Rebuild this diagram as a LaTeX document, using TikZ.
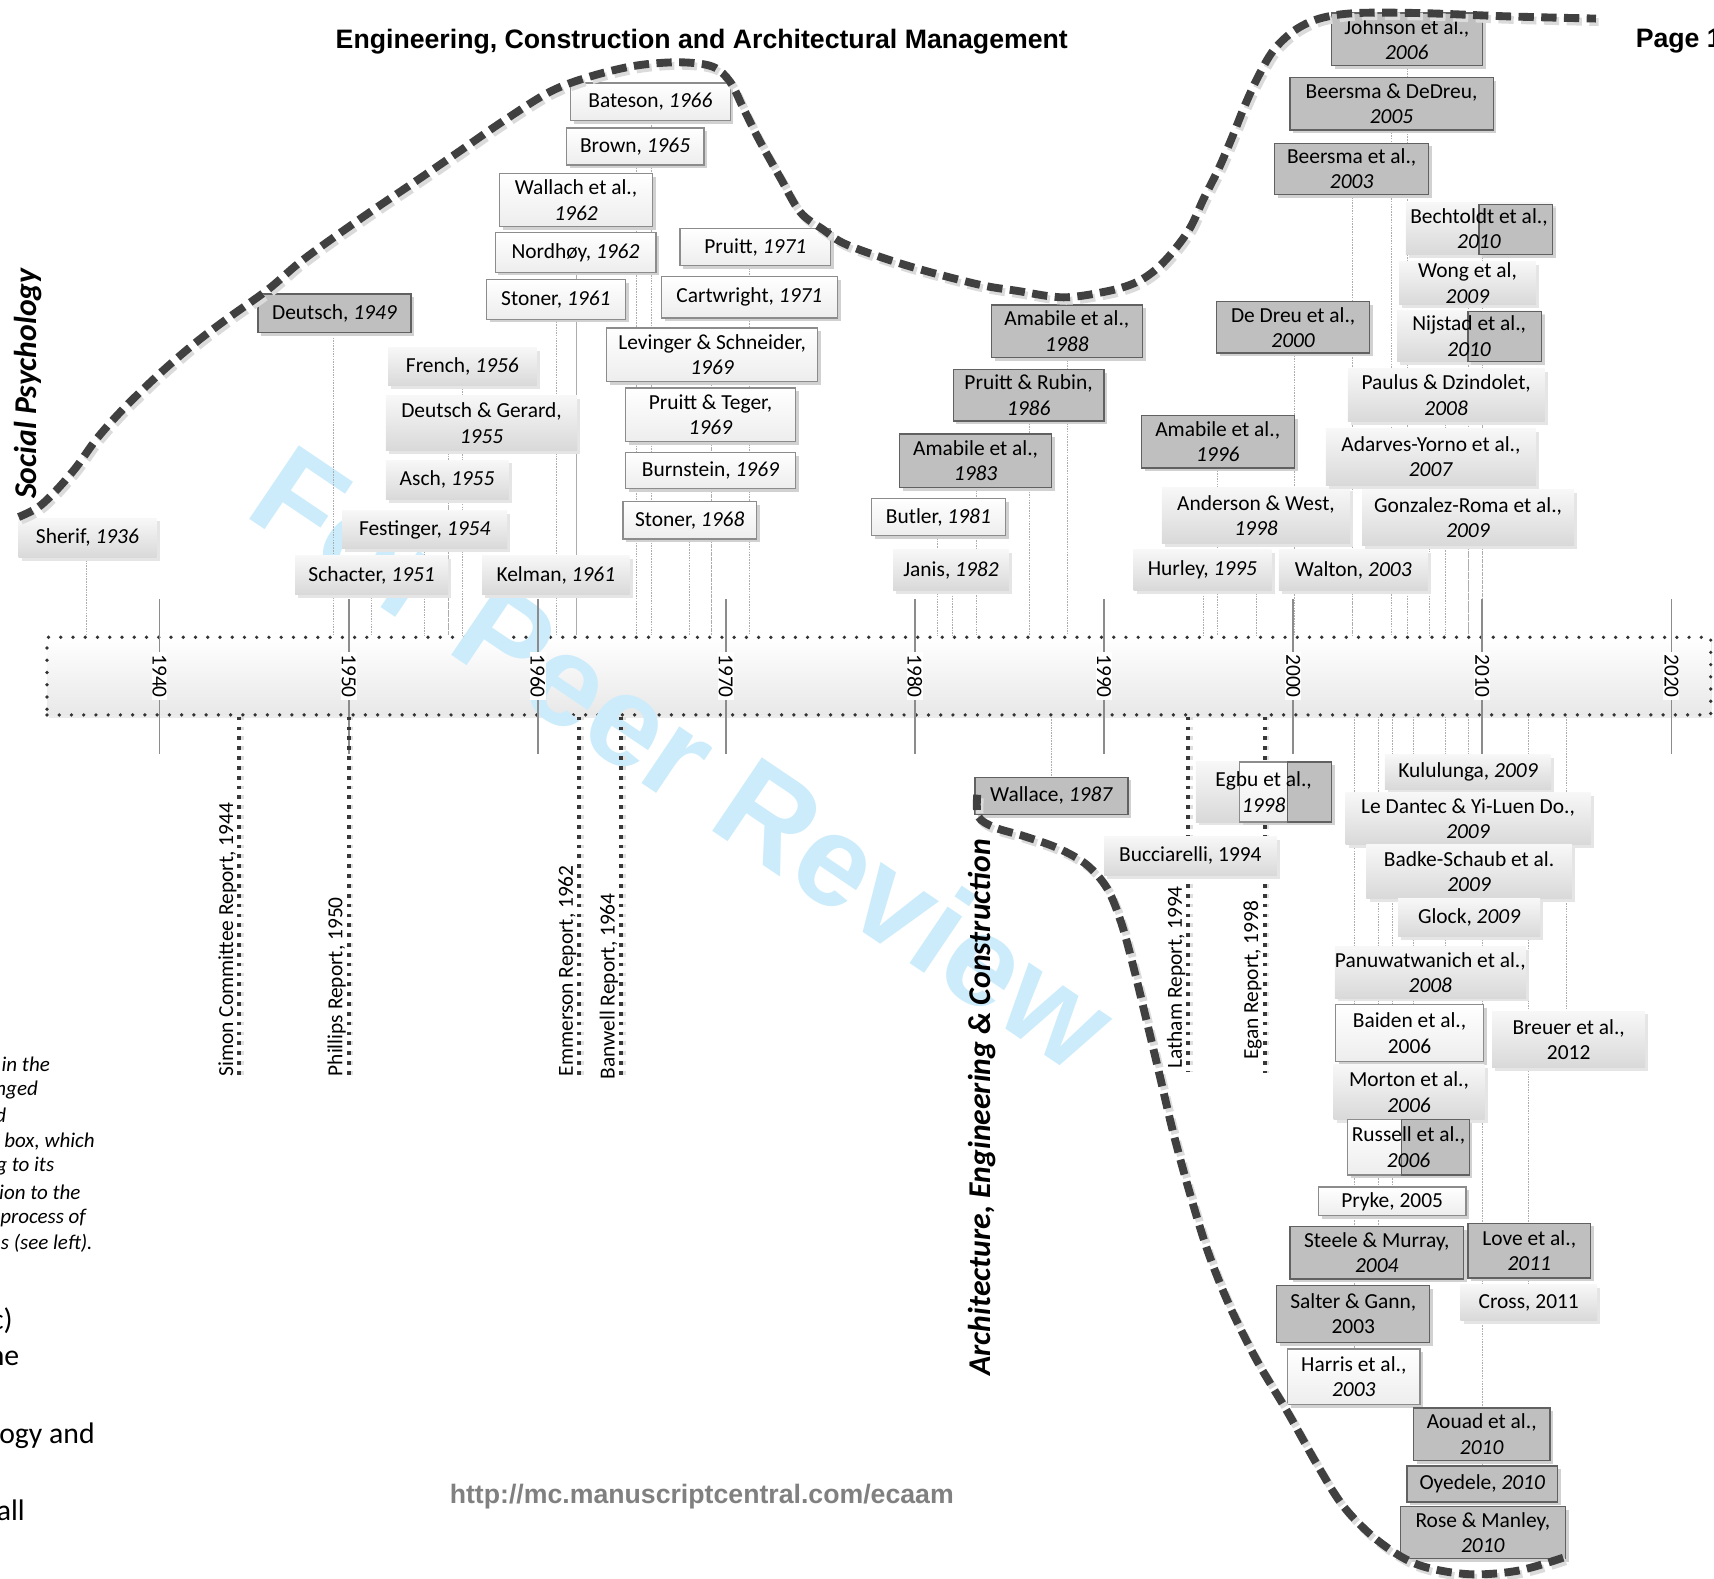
\documentclass[tikz,border=0pt]{standalone}
\usepackage{fontspec}
\setmainfont{Carlito}
\newfontfamily\arialfont{Liberation Sans}
\usetikzlibrary{shadows}
\definecolor{wmblue}{RGB}{204,236,251}
\pgfdeclarelayer{barlayer}
\pgfdeclarelayer{wmlayer}
\pgfdeclarelayer{leadlayer}
\pgfdeclarelayer{fglayer}
\pgfsetlayers{barlayer,wmlayer,leadlayer,main,fglayer}
\tikzset{
  bxbase/.style={inner sep=0pt, outer sep=0pt, align=center, font=\fontsize{9.8}{11.6}\selectfont},
  shd/.style={drop shadow={shadow xshift=1.5pt, shadow yshift=-1.5pt, fill=black!18, opacity=1}},
  darkbox/.style={bxbase, shd, draw=black!62, line width=0.6pt, fill=black!25},
  whitebox/.style={bxbase, shd, draw=black!45, line width=0.6pt, top color=white, bottom color=black!7},
  softbox/.style={bxbase, drop shadow={shadow xshift=1.5pt, shadow yshift=-1.5pt, fill=black!10, opacity=1}, top color=black!3, bottom color=black!15},
  leader/.style={draw=black!32, line width=0.45pt, dash pattern=on 0.7pt off 0.5pt},
  tickline/.style={draw=black!45, line width=0.8pt},
  yrlabel/.style={font=\fontsize{9.8}{11}\selectfont, fill=white, inner xsep=1pt, inner ysep=0.4pt, rotate=-90},
  rptline/.style={draw=black!78, line width=1.9pt, dash pattern=on 1.7pt off 2.8pt},
  rptshadow/.style={draw=black!12, line width=1.9pt, dash pattern=on 1.7pt off 2.8pt, xshift=1.2pt},
  rpttext/.style={font=\fontsize{9.8}{11}\selectfont, inner sep=0pt, rotate=90, anchor=west},
  sweep/.style={draw=black!75, line width=3.6pt, dash pattern=on 7pt off 3.4pt},
  sweepsh/.style={draw=black!14, line width=3.6pt, dash pattern=on 7pt off 3.4pt, xshift=1.2pt, yshift=-1.6pt},
  fieldlabel/.style={font=\fontsize{14.5}{16}\selectfont\bfseries\itshape, inner sep=0pt, rotate=90},
  headline/.style={font=\arialfont\bfseries\fontsize{12.2}{14}\selectfont, inner sep=0pt},
  fragsmall/.style={font=\fontsize{9.6}{11.5}\selectfont\itshape, inner sep=0pt, anchor=east},
  fragbig/.style={font=\fontsize{13.6}{17}\selectfont, inner sep=0pt, anchor=east},
  barstyle/.style={draw=black!80, line width=1.7pt, dash pattern=on 0pt off 5.6pt, line cap=round, top color=white, bottom color=black!9, drop shadow={shadow xshift=0.8pt, shadow yshift=-1.4pt, fill=black!8, opacity=1}},
}
\newcommand\mybox[7]{%
  \pgfmathsetmacro\bxw{(#5-#3)*0.5}%
  \pgfmathsetmacro\bxh{(#6-#4)*0.5}%
  \pgfmathsetmacro\bxcx{(#3+#5)/2}%
  \pgfmathsetmacro\bxcy{(#4+#6)/2}%
  \node[#1, minimum width=\bxw pt, minimum height=\bxh pt] (#2) at (\bxcx,\bxcy) {#7};}
\newcommand\lup[2]{\draw[leader] (#2,0 |- #1.south) -- (#2,0 |- bar.north);}
\newcommand\ldn[2]{\draw[leader] (#2,0 |- bar.south) -- (#2,0 |- #1.north);}
\newcommand\rpt[6]{%
  \draw[rptshadow] (#2,0 |- bar.south) -- (#2,#3);
  \draw[rptline] (#2,0 |- bar.south) -- (#2,#3);
  \node[rpttext] (#1) at (#4,#5) {#6};}
\begin{document}
\begin{tikzpicture}[x=0.5pt,y=-0.5pt]
\useasboundingbox (0,0) rectangle (1568,1444);

% timeline bar
\begin{pgfonlayer}{barlayer}
\node[barstyle, inner sep=0pt, minimum width=761pt, minimum height=35.5pt] (bar) at (804,618.5) {};
\end{pgfonlayer}

% watermark
\begin{pgfonlayer}{wmlayer}
\node[font=\arialfont\bfseries\fontsize{59}{59}\selectfont, text=wmblue, rotate=-34, inner sep=0pt] (wm) at (626,692) {For Peer Review};
\end{pgfonlayer}

% decade ticks and labels
\foreach \xx/\yy in {146/1940,319/1950,492/1960,664/1970,837/1980,1010/1990,1183/2000,1356/2010,1529/2020}{
  \draw[tickline] (\xx,548) -- (\xx,690);
  \node[yrlabel] (d\yy) at (\xx,618.5) {\yy};
}

% reports
\rpt{simon}{219}{987}{208}{985}{Simon Committee Report, 1944}
\rpt{phillips}{319}{988}{308}{985}{Phillips Report, 1950}
\rpt{emmerson}{530}{988}{519}{985}{Emmerson Report, 1962}
\rpt{banwell}{568}{988}{557}{988}{Banwell Report, 1964}
\rpt{latham}{1087}{980}{1076}{978}{Latham Report, 1994}
\rpt{egan}{1157}{982}{1146}{970}{Egan Report, 1998}

% upper boxes
\mybox{softbox}{sherif}{17}{474}{143}{510}{Sherif, \textit{1936}}
\mybox{darkbox}{deutsch}{236}{269}{376}{304}{Deutsch, \textit{1949}}
\mybox{softbox}{french}{355}{318}{491}{353}{French, \textit{1956}}
\mybox{softbox}{dg}{353}{362}{528}{412}{Deutsch \& Gerard,\\\textit{1955}}
\mybox{softbox}{asch}{353}{421}{465}{457}{Asch, \textit{1955}}
\mybox{softbox}{festinger}{313}{467}{464}{502}{Festinger, \textit{1954}}
\mybox{softbox}{schacter}{270}{508}{410}{544}{Schacter, \textit{1951}}
\mybox{softbox}{kelman}{441}{508}{576}{544}{Kelman, \textit{1961}}
\mybox{whitebox}{bateson}{522}{76}{668}{110}{Bateson, \textit{1966}}
\mybox{whitebox}{brown}{518}{117}{644}{151}{Brown, \textit{1965}}
\mybox{whitebox}{wallach}{457}{159}{597}{207}{Wallach et al.,\\\textit{1962}}
\mybox{whitebox}{nordhoy}{453}{213}{600}{249}{Nordhøy, \textit{1962}}
\mybox{whitebox}{stonera}{445}{256}{572}{292}{Stoner, \textit{1961}}
\mybox{whitebox}{pruitt}{622}{209}{760}{243}{Pruitt, \textit{1971}}
\mybox{whitebox}{cartwright}{605}{253}{766}{291}{Cartwright, \textit{1971}}
\mybox{whitebox}{levinger}{555}{300}{748}{349}{Levinger \& Schneider,\\\textit{1969}}
\mybox{whitebox}{pteger}{572}{355}{728}{404}{Pruitt \& Teger,\\\textit{1969}}
\mybox{whitebox}{burnstein}{572}{414}{728}{447}{Burnstein, \textit{1969}}
\mybox{whitebox}{stonerb}{570}{459}{692}{493}{Stoner, \textit{1968}}
\mybox{darkbox}{amabc}{907}{279}{1045}{327}{Amabile et al.,\\\textit{1988}}
\mybox{darkbox}{prubin}{872}{338}{1010}{385}{Pruitt \& Rubin,\\\textit{1986}}
\mybox{darkbox}{amaba}{823}{397}{962}{446}{Amabile et al.,\\\textit{1983}}
\mybox{whitebox}{butler}{797}{456}{920}{490}{Butler, \textit{1981}}
\mybox{softbox}{janis}{817}{503}{923}{540}{Janis, \textit{1982}}
\mybox{darkbox}{dedreu}{1113}{276}{1253}{323}{De Dreu et al.,\\\textit{2000}}
\mybox{darkbox}{amabd}{1044}{380}{1184}{428}{Amabile et al.,\\\textit{1996}}
\mybox{softbox}{anderson}{1063}{446}{1235}{497}{Anderson \& West,\\\textit{1998}}
\mybox{softbox}{hurley}{1037}{503}{1163}{540}{Hurley, \textit{1995}}
\mybox{softbox}{walton}{1170}{503}{1306}{540}{Walton, \textit{2003}}
\mybox{darkbox}{johnson}{1218}{12}{1356}{60}{Johnson et al.,\\\textit{2006}}
\mybox{darkbox}{bdd}{1180}{71}{1366}{119}{Beersma \& DeDreu,\\\textit{2005}}
\mybox{darkbox}{beersma}{1166}{131}{1307}{178}{Beersma et al.,\\\textit{2003}}
\mybox{softbox}{bechA}{1286}{185}{1420}{233}{}
\mybox{darkbox}{bechB}{1353}{187}{1420}{233}{}
\node[bxbase] (bech) at (bechA.center) {Bechtoldt et al.,\\\textit{2010}};
\mybox{softbox}{wong}{1280}{239}{1405}{279}{Wong et al,\\\textit{2009}}
\mybox{softbox}{nijA}{1278}{284}{1410}{331}{}
\mybox{darkbox}{nijB}{1343}{285}{1410}{331}{}
\node[bxbase] (nijstad) at (nijA.center) {Nijstad et al.,\\\textit{2010}};
\mybox{softbox}{paulus}{1233}{337}{1413}{386}{Paulus \& Dzindolet,\\\textit{2008}}
\mybox{softbox}{adarves}{1213}{392}{1405}{444}{Adarves-Yorno et al.,\\\textit{2007}}
\mybox{softbox}{gonzalez}{1246}{448}{1440}{499}{Gonzalez-Roma et al.,\\\textit{2009}}

% lower boxes
\mybox{darkbox}{wallace}{892}{711}{1032}{745}{Wallace, \textit{1987}}
\mybox{softbox}{egbuA}{1094}{697}{1218}{752}{}
\mybox{whitebox}{egbuB}{1134}{697}{1218}{752}{}
\mybox{darkbox}{egbuC}{1178}{697}{1218}{752}{}
\node[bxbase] (egbu) at (egbuA.center) {Egbu et al.,\\\textit{1998}};
\mybox{softbox}{bucc}{1010}{765}{1168}{801}{Bucciarelli, 1994}
\mybox{softbox}{kulu}{1267}{690}{1419}{722}{Kululunga, \textit{2009}}
\mybox{softbox}{dantec}{1231}{725}{1455}{773}{Le Dantec \& Yi-Luen Do.,\\\textit{2009}}
\mybox{softbox}{badke}{1250}{773}{1438}{822}{Badke-Schaub et al.\\\textit{2009}}
\mybox{softbox}{glock}{1279}{822}{1409}{857}{Glock, \textit{2009}}
\mybox{softbox}{panu}{1222}{866}{1395}{913}{Panuwatwanich et al.,\\\textit{2008}}
\mybox{whitebox}{baiden}{1222}{919}{1357}{971}{Baiden et al.,\\2006}
\mybox{softbox}{breuer}{1365}{925}{1505}{977}{Breuer et al.,\\2012}
\mybox{softbox}{morton}{1220}{974}{1358}{1024}{Morton et al.,\\\textit{2006}}
\mybox{whitebox}{rusA}{1233}{1024}{1344}{1075}{}
\mybox{darkbox}{rusB}{1282}{1024}{1344}{1075}{}
\node[bxbase] (russell) at (rusA.center) {Russell et al.,\\\textit{2006}};
\mybox{whitebox}{pryke}{1206}{1086}{1341}{1112}{Pryke, 2005}
\mybox{darkbox}{steele}{1180}{1122}{1339}{1170}{Steele \& Murray,\\\textit{2004}}
\mybox{darkbox}{love}{1343}{1119}{1455}{1169}{Love et al.,\\\textit{2011}}
\mybox{darkbox}{salter}{1168}{1176}{1308}{1228}{Salter \& Gann,\\2003}
\mybox{softbox}{cross}{1336}{1175}{1461}{1208}{Cross, 2011}
\mybox{whitebox}{harris}{1178}{1234}{1299}{1285}{Harris et al.,\\\textit{2003}}
\mybox{darkbox}{aouad}{1293}{1288}{1418}{1336}{Aouad et al.,\\\textit{2010}}
\mybox{darkbox}{oyedele}{1287}{1341}{1425}{1374}{Oyedele, \textit{2010}}
\mybox{darkbox}{rose}{1281}{1378}{1432}{1426}{Rose \& Manley,\\\textit{2010}}

% field labels and texts
\node[fieldlabel] (socpsy) at (26,351) {Social Psychology};
\node[fieldlabel] (aec) at (898,1013) {Architecture, Engineering \& Construction};
\node[headline] (title) at (642,38) {Engineering, Construction and Architectural Management};
\node[headline, anchor=west] (page) at (1496,38) {Page 1};
\node[headline, text=black!50] (url) at (642,1369) {http://mc.manuscriptcentral.com/ecaam};

\node[fragsmall] (f1) at (46,974) {in the};
\node[fragsmall] (f2) at (35,997) {nged};
\node[fragsmall] (f3) at (6,1020) {d};
\node[fragsmall] (f4) at (87,1044) {box, which};
\node[fragsmall] (f5) at (50,1067) {g to its};
\node[fragsmall] (f6) at (74,1091) {ion to the};
\node[fragsmall] (f7) at (79,1114) {process of};
\node[fragsmall] (f8) at (85,1137) {s (see left).};
\node[fragbig] (g1) at (12,1208) {c)};
\node[fragbig] (g2) at (18,1243) {ne};
\node[fragbig] (g3) at (87,1313) {ogy and};
\node[fragbig] (g4) at (23,1382) {all};

% leaders
\begin{pgfonlayer}{leadlayer}
\lup{sherif}{79} \lup{deutsch}{305} \lup{schacter}{340} \lup{festinger}{388}
\lup{asch}{410} \lup{dg}{410} \lup{french}{423} \lup{kelman}{509} \lup{stonera}{509}
\lup{wallach}{527} \lup{nordhoy}{527} \lup{brown}{582} \lup{bateson}{596}
\lup{stonerb}{631} \lup{levinger}{651} \lup{pteger}{651} \lup{burnstein}{651}
\lup{pruitt}{686} \lup{cartwright}{686} \lup{butler}{858} \lup{janis}{871}
\lup{amaba}{893} \lup{prubin}{942} \lup{amabc}{977} \lup{hurley}{1101}
\lup{amabd}{1114} \lup{anderson}{1149} \lup{dedreu}{1184} \lup{beersma}{1237}
\lup{walton}{1237} \lup{bdd}{1273} \lup{johnson}{1288} \lup{adarves}{1308}
\lup{paulus}{1322} \lup{wong}{1343} \lup{gonzalez}{1343} \lup{bechA}{1356} \lup{nijA}{1356}
\ldn{wallace}{962} \ldn{kulu}{1343} \ldn{dantec}{1343} \ldn{badke}{1343} \ldn{glock}{1343}
\ldn{panu}{1322} \ldn{baiden}{1293} \ldn{morton}{1293} \ldn{rusA}{1293}
\ldn{pryke}{1274} \ldn{steele}{1261} \ldn{salter}{1239} \ldn{harris}{1239}
\ldn{breuer}{1433} \ldn{love}{1398} \ldn{cross}{1398}
\ldn{aouad}{1356} \ldn{oyedele}{1356} \ldn{rose}{1356}
\end{pgfonlayer}

% sweeping curves
\begin{pgfonlayer}{fglayer}
\foreach \sty in {sweepsh,sweep}{
\draw[\sty] plot[smooth, tension=0.55] coordinates {(17,473) (35,464) (52,448) (70,427) (88,402) (109,378) (133,354) (157,332) (182,311) (210,290) (245,265) (273,241) (300,221) (340,193) (380,166) (418,140) (460,111) (503,84) (540,70) (582,60) (622,57) (652,61) (668,75) (680,99) (695,129) (714,163) (732,194) (753,210) (775,224) (830,243) (894,260) (930,266) (973,272) (1015,266) (1040,258) (1058,246) (1074,229) (1089,208) (1101,182) (1115,154) (1127,126) (1139,96) (1151,70) (1165,46) (1184,28) (1207,17) (1240,12) (1300,12) (1380,15) (1460,17)};
\draw[\sty] plot[smooth, tension=0.55] coordinates {(894,727) (895,747) (910,757) (937,765) (968,776) (994,791) (1013,813) (1026,845) (1037,885) (1048,930) (1060,980) (1073,1035) (1088,1090) (1105,1145) (1125,1195) (1150,1245) (1178,1292) (1205,1340) (1229,1378) (1260,1409) (1296,1431) (1342,1440) (1388,1437) (1430,1425)};
}
\end{pgfonlayer}
\end{tikzpicture}
\end{document}
